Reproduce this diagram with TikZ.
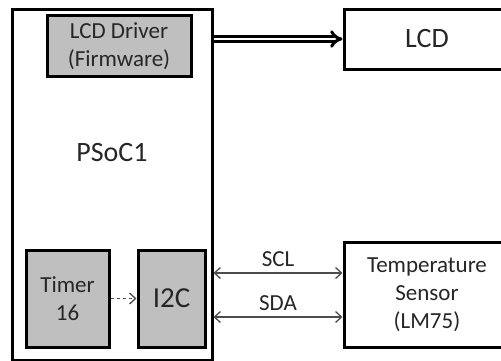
\documentclass[tikz,border=0pt]{standalone}
\usepackage{fontspec}
\setmainfont{Carlito}
\usetikzlibrary{arrows.meta,positioning,calc}

\begin{document}
\begin{tikzpicture}[
      x=1pt, y=-1pt,
      block/.style = {
        draw,
        line width=3pt,
        text=black!85,
        align=center,
        inner sep=0pt,
        font=\fontsize{23}{28}\selectfont
      },
      chip/.style = {
        block,
        fill=black!25
      },
      bus/.style = {
        draw=black!70,
        line width=1.3pt,
        {Straight Barb[length=6pt,width=11pt]}-{Straight Barb[length=6pt,width=11pt]}
      },
      dbl/.style = {
        line width=3pt,
        double distance=2.5pt,
        -{Implies[scale=1.4]}
      },
      ctl/.style = {
        draw=black!70,
        line width=1.3pt,
        dashed,
        -{Straight Barb[length=6pt,width=11pt]}
      }
    ]
    \useasboundingbox (0,0) rectangle (501,360);
    \clip (0,0) rectangle (501,360);

    % chip outline
    \node[block, minimum width=200pt, minimum height=351pt] (psoc) at (112,184.5) {};
    \node[text=black!85, font=\fontsize{28}{32}\selectfont] (psoclabel) at (112,153) {PSoC1};

    % blocks inside the chip
    \node[chip, minimum width=144pt, minimum height=61pt] (driver) at (119,46) {LCD Driver\\(Firmware)};
    \node[chip, minimum width=83pt, minimum height=97pt] (timer) at (67.5,298.5) {Timer\\16};
    \node[chip, minimum width=67pt, minimum height=97pt, font=\fontsize{29}{32}\selectfont] (i2c) at (171.5,298.5) {I2C};

    % outside parts
    \node[block, minimum width=166pt, minimum height=60pt, font=\fontsize{28}{32}\selectfont] (lcd) at (427,39) {LCD};
    \node[block, minimum width=166pt, minimum height=105pt] (sensor) at (427,294.5) {Temperature\\Sensor\\(LM75)};

    % links
    \draw[dbl] (psoc.east |- lcd.west) -- (lcd.west);
    \draw[ctl] (timer.east) -- (i2c.west);

    \coordinate (scl) at ([yshift=21.5pt]sensor.west);
    \coordinate (sda) at ([yshift=-22.5pt]sensor.west);
    \draw[bus] (psoc.east |- scl) -- node[above=2pt, text=black!85, font=\fontsize{23}{28}\selectfont] (scllabel) {SCL} (scl);
    \draw[bus] (psoc.east |- sda) -- node[above=2pt, text=black!85, font=\fontsize{23}{28}\selectfont] (sdalabel) {SDA} (sda);
  \end{tikzpicture}
\end{document}
